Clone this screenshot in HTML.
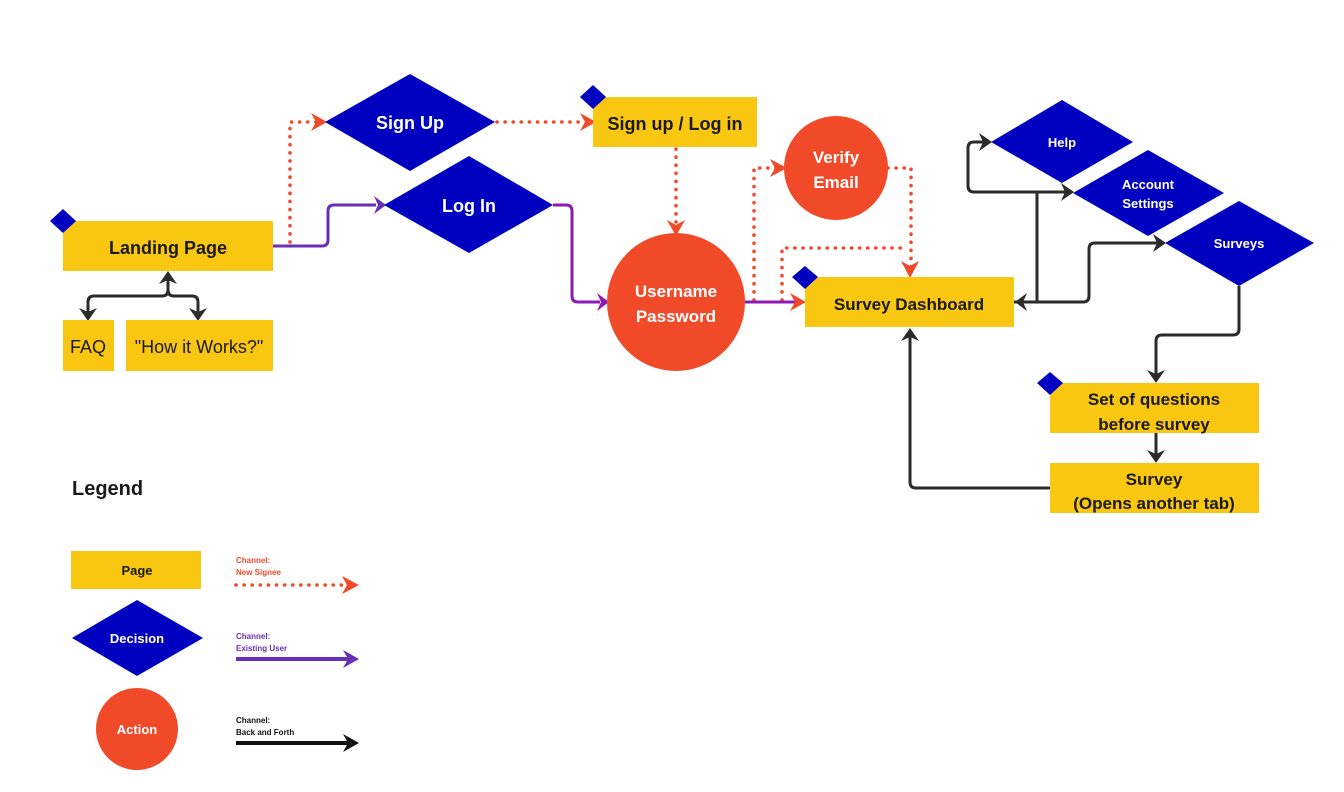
<!DOCTYPE html>
<html><head><meta charset="utf-8"><style>
html,body{margin:0;padding:0;background:#fff;}
svg{display:block;}
text{font-family:"Liberation Sans",sans-serif;font-weight:bold;}
</style></head><body>
<svg width="1344" height="792" viewBox="0 0 1344 792" xmlns="http://www.w3.org/2000/svg">
<rect width="1344" height="792" fill="#fff"/>

<!-- connectors: red dotted -->
<g fill="none" stroke="#F04A28" stroke-width="3.6" stroke-dasharray="0.1 8" stroke-linecap="round">
<path d="M290 242 V122 H318"/>
<path d="M497 122 H586"/>
<path d="M676 149 V226"/>
<path d="M754 300 V168 H778"/>
<path d="M888 168 H911 V268"/>
<path d="M782 300 V248 H907"/>
<path d="M236 585 H348"/>
</g>
<g fill="#F04A28">
<path d="M311 113 L327 122 L311 131 L316 122Z"/>
<path d="M580 113 L596 122 L580 131 L585 122Z"/>
<path d="M667 220 L676 236 L685 220 L676 225Z"/>
<path d="M770 159 L787 168 L770 177 L775 168Z"/>
<path d="M901 261 L910 278 L919 261 L910 266Z"/>
<path d="M342 576 L359 585 L342 594 L347 585Z"/>
</g>

<!-- purple -->
<g fill="none" stroke-width="3" stroke-linejoin="round">
<path d="M273 246 H322 Q328 246 328 240 V211 Q328 205 334 205 H376" stroke="#6A2FB5"/>
<path d="M553 205 H566 Q572 205 572 211 V296 Q572 302 578 302 H600" stroke="#8E1AB5"/>
<path d="M745 302 H797" stroke="#8E1AB5"/>
<path d="M236 659 H350" stroke="#6A2FB5" stroke-width="4"/>
</g>
<path d="M374 196 L386 205 L374 214 L378 205Z" fill="#6A2FB5"/>
<path d="M597 293 L609 302 L597 311 L601 302Z" fill="#8E1AB5"/>
<path d="M343 650 L359 659 L343 668 L348 659Z" fill="#6A2FB5"/>
<path d="M790 293 L806 302 L790 311 L795 302Z" fill="#F04A28"/>

<!-- black -->
<g fill="none" stroke="#2b2b2b" stroke-width="3" stroke-linejoin="round">
<path d="M168 276 V290 Q168 296 162 296 H94 Q88 296 88 302 V314"/>
<path d="M168 290 Q168 296 174 296 H192 Q198 296 198 302 V314"/>
<path d="M1014 302 H1037 V192"/>
<path d="M1037 302 H1083 Q1089 302 1089 296 V249 Q1089 243 1095 243 H1160"/>
<path d="M984 142 H974 Q968 142 968 148 V186 Q968 192 974 192 H1066"/>
<path d="M1239 286 V329 Q1239 335 1233 335 H1162 Q1156 335 1156 341 V376"/>
<path d="M1156 433 V456"/>
<path d="M1050 488 H916 Q910 488 910 482 V336"/>
<path d="M236 743 H350" stroke="#111" stroke-width="4"/>
</g>
<g fill="#2b2b2b">
<path d="M159 284 L168 271 L177 284 L168 280Z"/>
<path d="M79 308 L88 321 L97 308 L88 312Z"/>
<path d="M189 308 L198 321 L207 308 L198 312Z"/>
<path d="M1027 293 L1015 302 L1027 311 L1023 302Z"/>
<path d="M979 133 L992 142 L979 151 L983 142Z"/>
<path d="M1061 183 L1074 192 L1061 201 L1065 192Z"/>
<path d="M1153 234 L1166 243 L1153 252 L1157 243Z"/>
<path d="M1147 370 L1156 383 L1165 370 L1156 374Z"/>
<path d="M1147 450 L1156 463 L1165 450 L1156 454Z"/>
<path d="M901 341 L910 328 L919 341 L910 337Z"/>
<path d="M343 734 L359 743 L343 752 L348 743Z" fill="#111"/>
</g>

<!-- pages -->
<g fill="#F9C612">
<rect x="63" y="221" width="210" height="50"/>
<rect x="63" y="320" width="51" height="51"/>
<rect x="126" y="320" width="147" height="51"/>
<rect x="593" y="97" width="164" height="50"/>
<rect x="805" y="277" width="209" height="50"/>
<rect x="1050" y="383" width="209" height="50"/>
<rect x="1050" y="463" width="209" height="50"/>
<rect x="71" y="551" width="130" height="38"/>
</g>
<g fill="#0000C0">
<path d="M63 209 L76 221 L63 233 L50 221Z"/>
<path d="M593 85 L606 97 L593 109 L580 97Z"/>
<path d="M805 266 L818 277 L805 289 L792 277Z"/>
<path d="M1050 372 L1063 383 L1050 395 L1037 383Z"/>
<path d="M410 74 L495 122 L410 171 L325 122Z"/>
<path d="M469 156 L553 205 L469 253 L384 205Z"/>
<path d="M1062 100 L1133 142 L1062 183 L991 142Z"/>
<path d="M1148 150 L1224 193 L1148 236 L1073 193Z"/>
<path d="M1239 201 L1314 243 L1239 286 L1165 243Z"/>
<path d="M137 600 L203 638 L137 676 L72 638Z"/>
</g>
<g fill="#F04A28">
<ellipse cx="836" cy="168" rx="52" ry="52"/>
<circle cx="676" cy="302" r="69"/>
<circle cx="137" cy="729" r="41"/>
</g>

<!-- text -->
<g text-anchor="middle" fill="#1a1a1a">
<text x="168" y="254" font-size="18">Landing Page</text>
<text x="88" y="353" font-size="18" style="font-weight:normal">FAQ</text>
<text x="199" y="353" font-size="18" style="font-weight:normal">"How it Works?"</text>
<text x="675" y="130" font-size="18">Sign up / Log in</text>
<text x="909" y="310" font-size="17">Survey Dashboard</text>
<text x="1154" y="405" font-size="17">Set of questions</text>
<text x="1154" y="430" font-size="17">before survey</text>
<text x="1154" y="485" font-size="17">Survey</text>
<text x="1154" y="509" font-size="17">(Opens another tab)</text>
<text x="137" y="575" font-size="13">Page</text>
</g>
<text x="72" y="495" font-size="20" fill="#1a1a1a">Legend</text>
<g text-anchor="middle" fill="#fff">
<text x="410" y="129" font-size="18">Sign Up</text>
<text x="469" y="212" font-size="18">Log In</text>
<text x="836" y="163" font-size="17">Verify</text>
<text x="836" y="188" font-size="17">Email</text>
<text x="676" y="297" font-size="17">Username</text>
<text x="676" y="322" font-size="17">Password</text>
<text x="1062" y="147" font-size="13">Help</text>
<text x="1148" y="189" font-size="13">Account</text>
<text x="1148" y="208" font-size="13">Settings</text>
<text x="1239" y="248" font-size="13">Surveys</text>
<text x="137" y="643" font-size="13">Decision</text>
<text x="137" y="734" font-size="13">Action</text>
</g>
<g font-size="8">
<text x="236" y="563" fill="#F04A28">Channel:</text>
<text x="236" y="575" fill="#F04A28">New Signee</text>
<text x="236" y="639" fill="#6A2FB5">Channel:</text>
<text x="236" y="651" fill="#6A2FB5">Existing User</text>
<text x="236" y="723" fill="#111">Channel:</text>
<text x="236" y="735" fill="#111">Back and Forth</text>
</g>
</svg>
</body></html>
